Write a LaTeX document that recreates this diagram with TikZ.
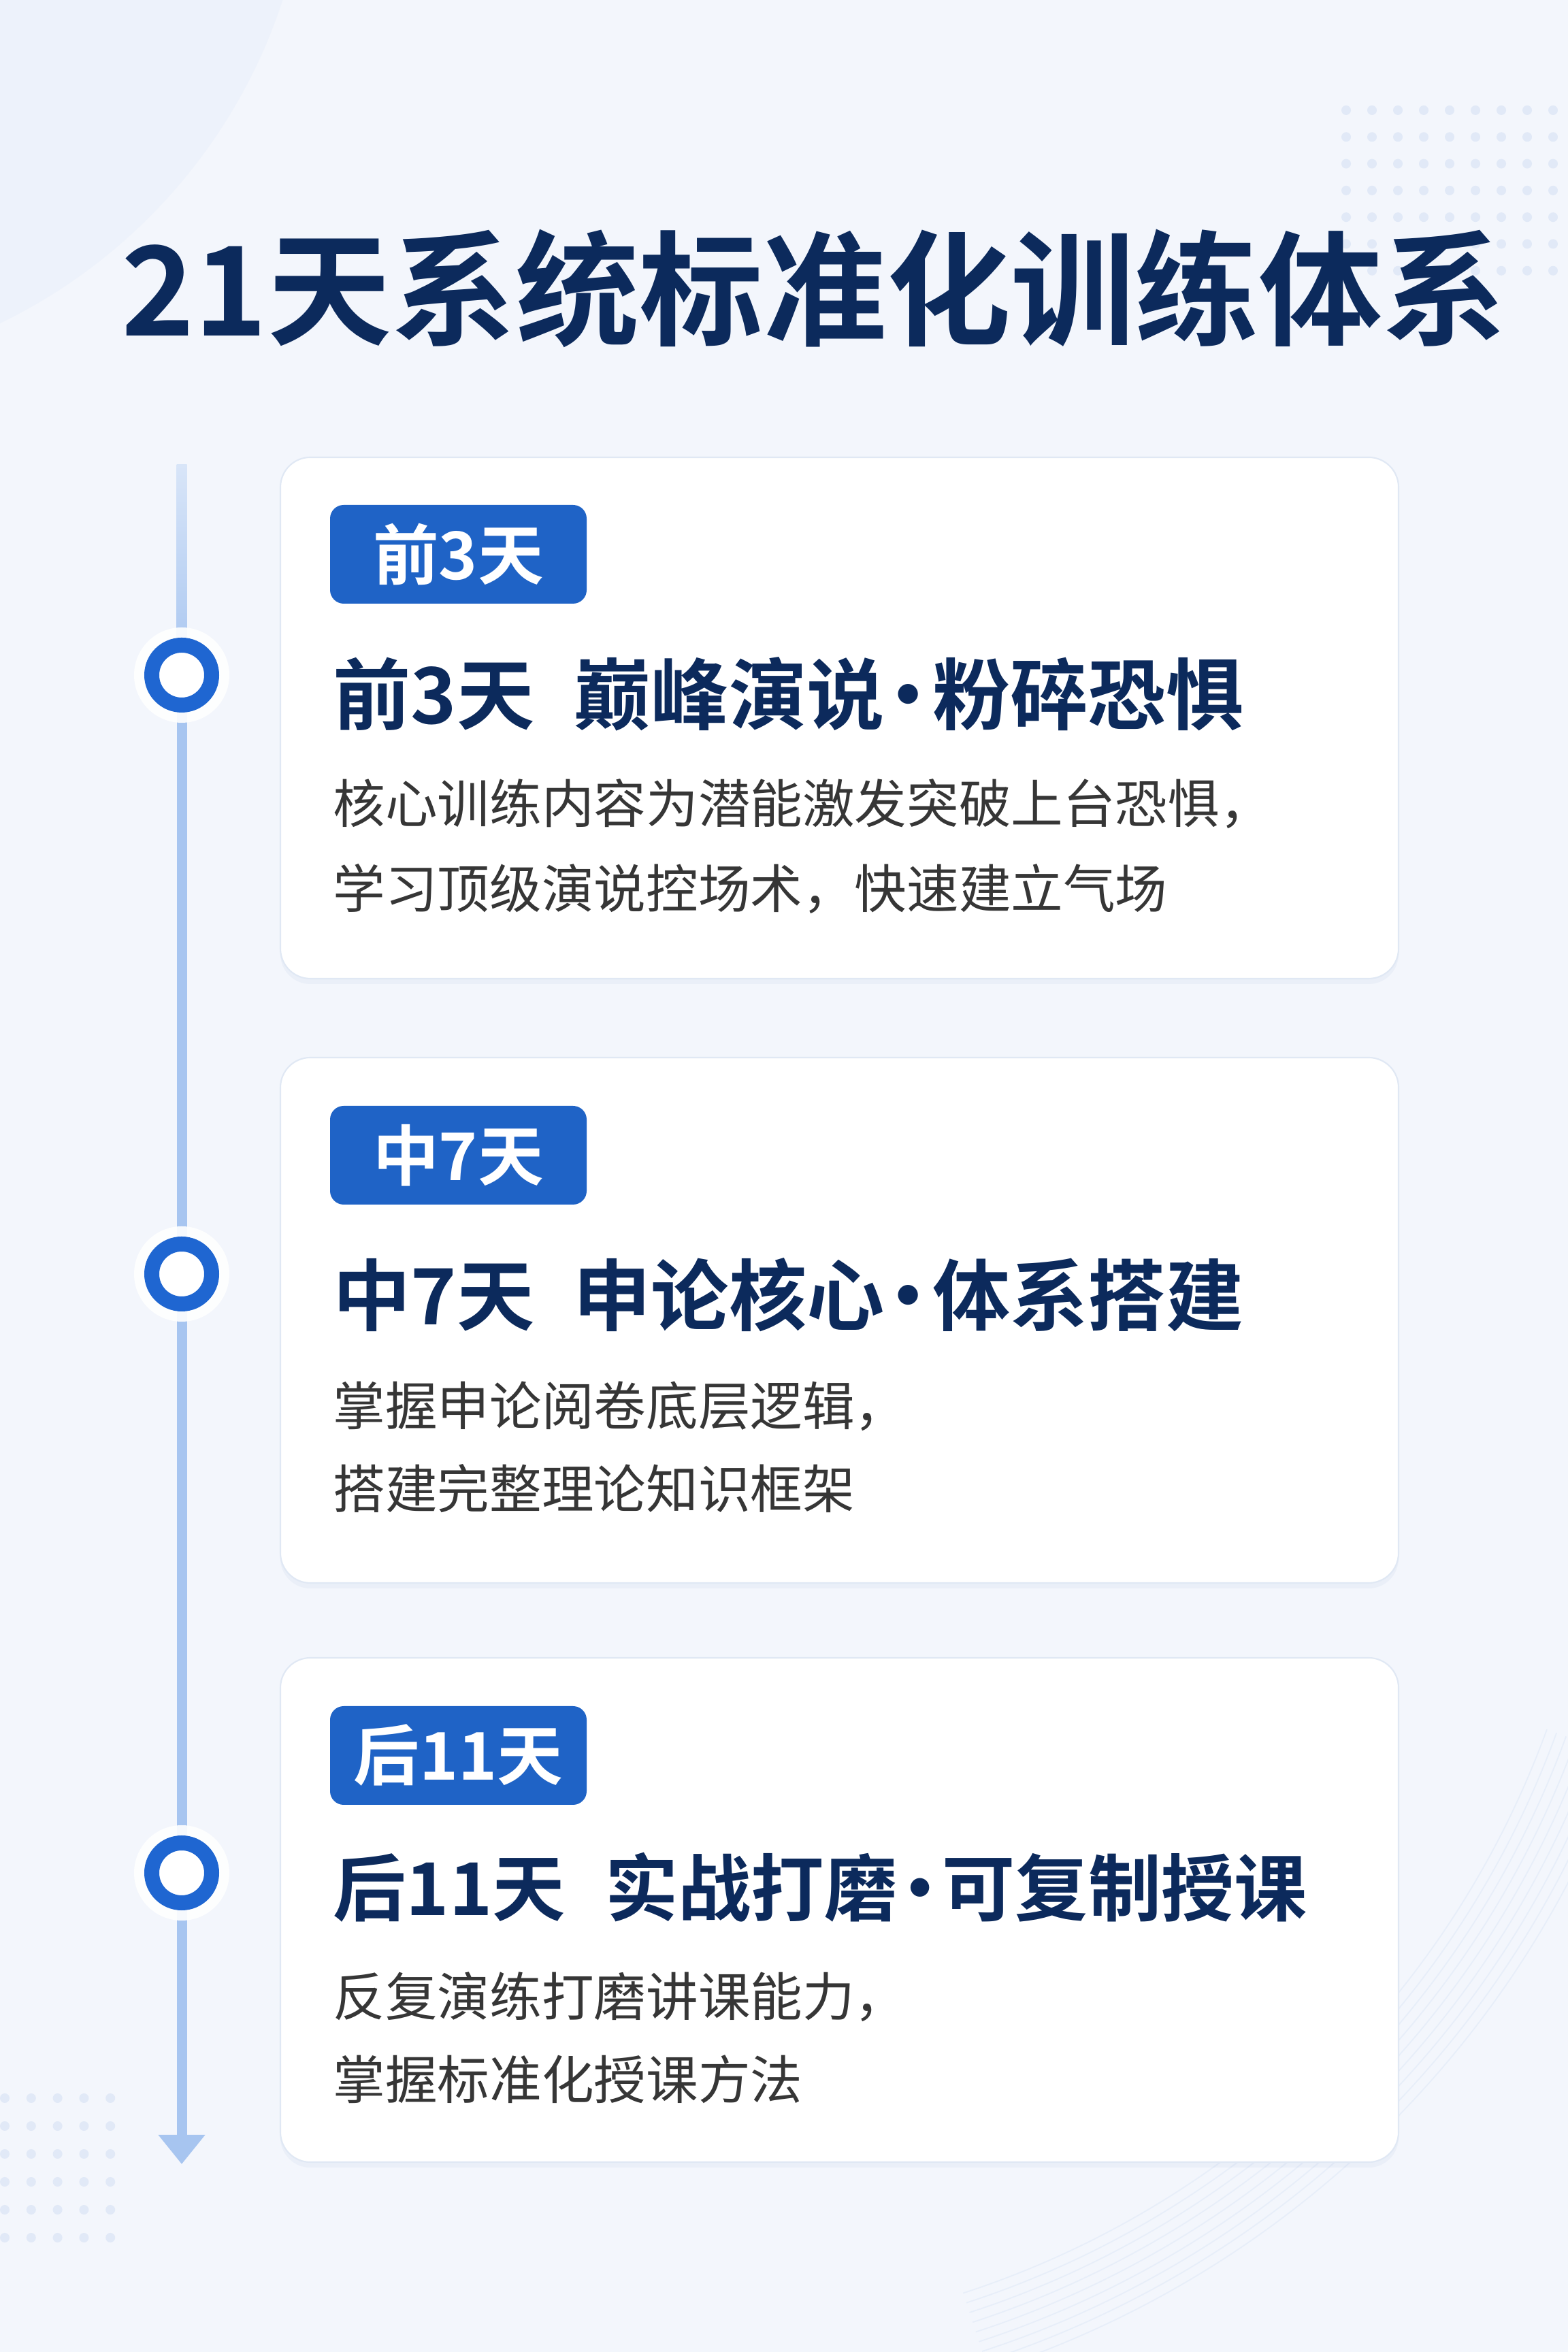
\documentclass[tikz,border=0pt]{standalone}
\usepackage{fontspec}
\setmainfont{Noto Sans CJK SC}[BoldFont={Noto Sans CJK SC Bold}]
\usetikzlibrary{positioning,calc,arrows.meta,shadows}
\definecolor{bgpale}{HTML}{F3F6FC}
\definecolor{bgarc}{HTML}{EDF2FB}
\definecolor{swirl}{HTML}{E7EEF9}
\definecolor{spotblue}{HTML}{E1E9F7}
\definecolor{navy}{HTML}{0C2A5C}
\definecolor{tagblue}{HTML}{1F63C6}
\definecolor{ringblue}{HTML}{1F66D1}
\definecolor{lineblue}{HTML}{A7C5F0}
\definecolor{linetop}{HTML}{D8E5F8}
\definecolor{bodygray}{HTML}{363636}
\definecolor{cardedge}{HTML}{E0E8F4}
\definecolor{shadowblue}{HTML}{9DB3D9}
\newcommand{\middot}{\makebox[0.62em]{·}}

\begin{document}
\begin{tikzpicture}[>=Latex,
    card/.style={draw=cardedge,line width=0.6pt,fill=white,rounded corners=0.44cm,
      minimum width=16.43cm,inner sep=0pt,outer sep=0pt,
      drop shadow={shadow xshift=0cm,shadow yshift=-0.08cm,opacity=0.10,fill=shadowblue}},
    tag/.style={fill=tagblue,rounded corners=0.2cm,minimum width=3.77cm,minimum height=1.45cm,
      inner sep=0pt,outer sep=0pt,text=white,font=\bfseries\fontsize{27.5}{30}\selectfont},
    hd/.style={anchor=west,inner sep=0pt,text=navy,font=\bfseries\fontsize{32.5}{35}\selectfont},
    txt/.style={anchor=west,inner sep=0pt,text=bodygray,font=\fontsize{21.8}{24}\selectfont},
    ring/.style={circle,draw=ringblue,line width=0.22cm,fill=white,minimum size=0.88cm,inner sep=0pt},
    tline/.style={draw=lineblue,line width=0.15cm,-{Triangle[width=0.66cm,length=0.43cm]}}]

  % background
  \fill[bgpale] (0,0) rectangle (23.04,34.56);
  \useasboundingbox (0,0) rectangle (23.04,34.56);
  \begin{scope}
    \clip (0,0) rectangle (23.04,34.56);
    \fill[bgarc] (-3.5,37.06) circle (8.05);
    \foreach \r in {13.6,13.75,...,14.9}
      \draw[swirl,line width=0.5pt] (9.95,13.8) ++(-20:\r) arc[start angle=-20,end angle=-72,radius=\r];
  \end{scope}

  % dot grids
  \foreach \i in {0,...,8}
    \foreach \j in {0,...,6}
      \fill[spotblue] ({19.78+0.38*\i},{32.94-0.393*\j}) circle (0.07);
  \foreach \i in {0,...,4}
    \foreach \j in {0,...,5}
      \fill[spotblue] ({0.07+0.388*\i},{3.73-0.41*\j}) circle (0.07);

  % title
  \node[font=\bfseries\fontsize{51.8}{56}\selectfont,text=navy] (title) at (11.96,30.32)
    {21天系统标准化训练体系};

  % timeline
  \coordinate (top) at (2.67,27.73);
  \coordinate (tip) at (2.67,2.76);
  \coordinate (p1) at (2.67,24.64);
  \coordinate (p2) at (2.67,15.84);
  \coordinate (p3) at (2.67,7.04);
  \draw[tline] (top) -- (tip);
  \shade[top color=linetop,bottom color=lineblue] ($(top)+(-0.075,0)$) rectangle ($(p1)+(0.075,0)$);
  \foreach \p in {p1,p2,p3}
    \fill[white,opacity=0.9] (\p) circle (0.70);
  \node[ring] (n1) at (p1) {};
  \node[ring] (n2) at (p2) {};
  \node[ring] (n3) at (p3) {};

  % stage 1
  \node[card,minimum height=7.66cm] (c1) at (12.335,24.01) {};
  \node[tag,below right=0.70cm and 0.73cm of c1.north west] (t1) {前3天};
  \node[hd] (h1) at ($(t1.south west)+(0.04,-1.33)$) {前3天\hspace{0.5em}巅峰演说\middot 粉碎恐惧};
  \node[txt] (d1) at ($(h1.west)+(0,-1.61)$) {核心训练内容为潜能激发突破上台恐惧，};
  \node[txt] (e1) at ($(d1.west)+(0,-1.25)$) {学习顶级演说控场术，快速建立气场};

  % stage 2
  \node[card,minimum height=7.72cm] (c2) at (12.335,15.16) {};
  \node[tag,below right=0.71cm and 0.73cm of c2.north west] (t2) {中7天};
  \node[hd] (h2) at ($(t2.south west)+(0.04,-1.33)$) {中7天\hspace{0.5em}申论核心\middot 体系搭建};
  \node[txt] (d2) at ($(h2.west)+(0,-1.63)$) {掌握申论阅卷底层逻辑，};
  \node[txt] (e2) at ($(d2.west)+(0,-1.21)$) {搭建完整理论知识框架};

  % stage 3
  \node[card,minimum height=7.41cm] (c3) at (12.335,6.495) {};
  \node[tag,below right=0.71cm and 0.73cm of c3.north west] (t3) {后11天};
  \node[hd,font=\bfseries\fontsize{30.5}{33}\selectfont] (h3) at ($(t3.south west)+(0.04,-1.21)$)
    {后11天\hspace{0.55em}实战打磨\middot 可复制授课};
  \node[txt] (d3) at ($(h3.west)+(0,-1.61)$) {反复演练打磨讲课能力，};
  \node[txt] (e3) at ($(d3.west)+(0,-1.21)$) {掌握标准化授课方法};
\end{tikzpicture}
\end{document}
